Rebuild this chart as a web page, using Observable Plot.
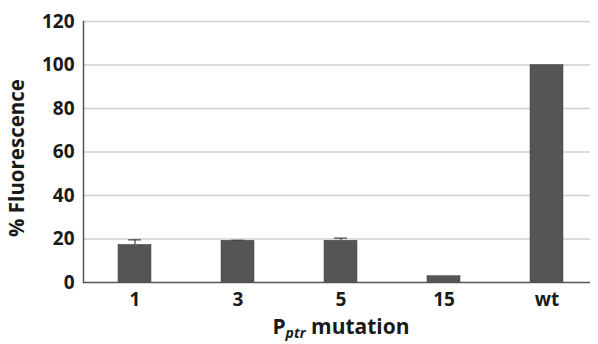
<!DOCTYPE html>
<html><head><meta charset="utf-8">
<script src="https://cdn.jsdelivr.net/npm/d3@7"></script>
<script src="https://cdn.jsdelivr.net/npm/@observablehq/plot@0.6"></script>
<style>body{margin:0;background:#fff;} svg{display:block;}</style>
</head><body><div id="chart"></div>
<script>
const categories = ["1", "3", "5", "15", "wt"];
const values = [17.3, 19.2, 19.2, 2.9, 100];
const errTops = [19.6, 19.4, 20.4, 2.9, 100];
const yTicks = [0, 20, 40, 60, 80, 100, 120];

const data = categories.map((c, i) => ({c, v: values[i], e: errTops[i]}));
const font = "'Open Sans', 'DejaVu Sans', sans-serif";

const chart = Plot.plot({
  width: 598, height: 344,
  marginLeft: 83, marginRight: 0, marginTop: 21, marginBottom: 62,
  style: {fontFamily: font, fontSize: "19px", fontWeight: "bold", color: "#1a1a1a", background: "#fff"},
  x: {domain: categories, paddingInner: 0.68, paddingOuter: 0.34, label: null},
  y: {domain: [0, 120], ticks: yTicks, label: null},
  marks: [
    Plot.gridY(yTicks.filter(d => d > 0), {stroke: "#d0d0d0", strokeOpacity: 1, strokeWidth: 1.5, insetRight: 8}),
    Plot.barY(data, {x: "c", y: "v", fill: "#555555", stroke: "#444", strokeWidth: 0.5}),
    Plot.ruleX(data.filter(d => d.e > d.v), {x: "c", y1: "v", y2: "e", stroke: "#444", strokeWidth: 1.2}),
    Plot.tickY(data.filter(d => d.e > d.v), {x: "c", y: "e", stroke: "#444", strokeWidth: 1.2, insetLeft: 10, insetRight: 10}),
    Plot.ruleY([0], {stroke: "#555", strokeWidth: 1.5, insetRight: 8}),
    Plot.axisY({ticks: yTicks, tickSize: 0, tickPadding: 9, label: null, fontSize: 19, fontWeight: "bold"}),
    Plot.axisX({tickSize: 0, tickPadding: 10, label: null, fontSize: 19, fontWeight: "bold"}),
    Plot.frame({anchor: "left", stroke: "#555", strokeWidth: 1.5})
  ]
});

const svg = d3.select(chart);
svg.append("text")
  .attr("transform", "translate(24,158) rotate(-90)")
  .attr("text-anchor", "middle")
  .attr("font-family", font).attr("font-size", 20.5).attr("font-weight", "bold").attr("fill", "#1a1a1a")
  .text("% Fluorescence");
const xl = svg.append("text")
  .attr("x", 341).attr("y", 334)
  .attr("text-anchor", "middle")
  .attr("font-family", font).attr("font-size", 21).attr("font-weight", "bold").attr("fill", "#1a1a1a");
xl.append("tspan").text("P");
xl.append("tspan").attr("font-size", 14).attr("font-style", "italic").attr("dy", 4).text("ptr");
xl.append("tspan").attr("dy", -4).text(" mutation");

document.getElementById("chart").appendChild(chart);
</script>
</body></html>
